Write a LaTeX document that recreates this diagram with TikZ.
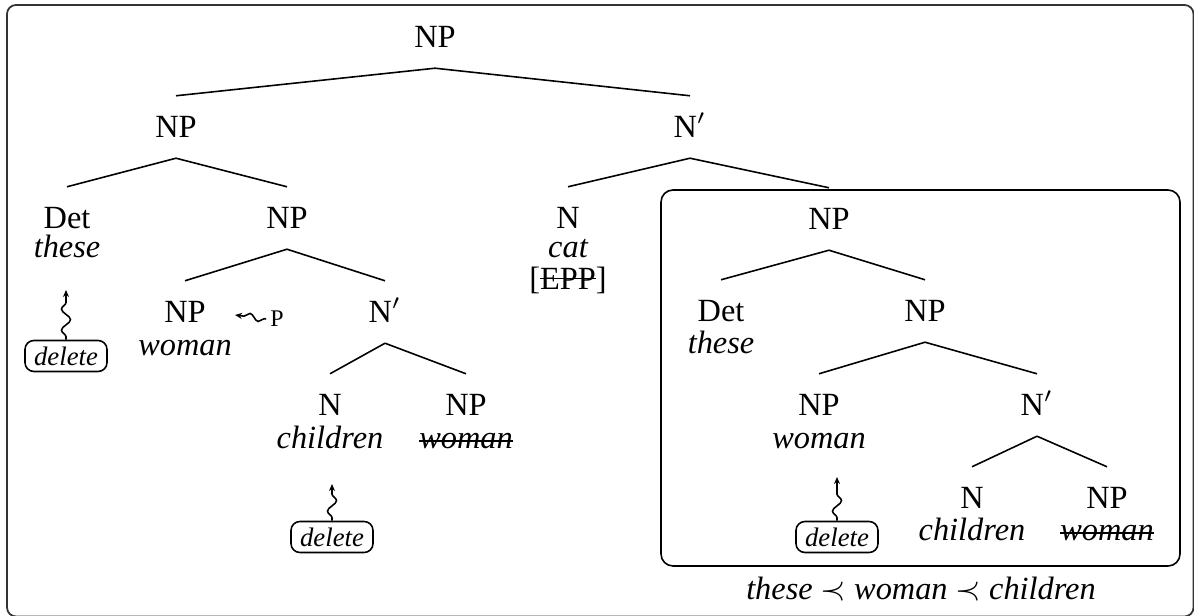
\documentclass[tikz,border=0pt]{standalone}
\usepackage{fontspec}
\setmainfont{Liberation Serif}
\usetikzlibrary{decorations.pathmorphing,arrows.meta}
\newcommand{\strikeit}[2][0.23em]{\setbox0\hbox{#2}\rlap{\rule[#1]{\wd0}{0.5pt}}\box0}
\begin{document}
\begin{tikzpicture}[x=0.01cm,y=-0.01cm,
  cat/.style={font=\fontsize{9.2}{11}\selectfont, inner xsep=1pt, inner ysep=0.2cm, text height=0.21cm, text depth=0cm},
  word/.style={font=\fontsize{9.2}{11}\selectfont\itshape, anchor=base, inner sep=0pt},
  tline/.style={line width=0.45pt},
  delbox/.style={draw, rounded corners=0.09cm, font=\fontsize{7.6}{9}\selectfont\itshape, minimum width=0.82cm, minimum height=0.31cm, inner sep=0pt, line width=0.45pt},
  wavy/.style={decorate, decoration={snake, amplitude=0.045cm, segment length=0.21cm, pre length=0.03cm, post length=0.08cm}, -{Stealth[length=0.07cm,width=0.06cm]}, line width=0.45pt},
  frame/.style={draw=black!80, line width=0.5pt, rounded corners=0.09cm}]
\useasboundingbox (0,0) rectangle (1194,616);
\draw[frame] (7,5) rectangle (1193.5,616.5);
% left tree
\node[cat] (root) at (435,37) {NP};
\node[cat] (np1) at (176,127) {NP};
\node[cat] (nbar1) at (690,127) {N$'$};
\node[cat] (det1) at (67,218) {Det};
\node[word] (these1) at (67,258) {these};
\node[cat] (np2) at (287,218) {NP};
\node[cat] (n2) at (568,218) {N};
\node[word] (cat) at (568,258) {cat};
\node[word, font=\fontsize{9.2}{11}\selectfont] (epp) at (568,290) {[\strikeit[0.33em]{EPP}]};
\node[cat] (np3) at (185,312) {NP};
\node[word] (woman1) at (185,356) {woman};
\node[cat] (nbar2) at (385,312) {N$'$};
\node[cat] (n1) at (330,405) {N};
\node[word] (children1) at (330,449) {children};
\node[cat] (np4) at (466,405) {NP};
\node[word] (woman2) at (466,449) {\strikeit{woman}};
\node[delbox] (del1) at (66,356) {delete};
\coordinate (tip1) at (66,290);
\node[delbox] (del2) at (332,537) {delete};
\coordinate (tip2) at (332,484);
\node[font=\fontsize{6.8}{8}\selectfont, inner sep=1pt] (p) at (277,319) {P};
\coordinate (tipP) at (235,315);
% boxed tree
\draw[line width=0.45pt, rounded corners=0.12cm] (661,190) rectangle (1180,566);
\node[cat] (np5) at (829,219) {NP};
\node[cat] (det2) at (721,311) {Det};
\node[word] (these2) at (721,354) {these};
\node[cat] (np6) at (925,311) {NP};
\node[cat] (np7) at (819,405) {NP};
\node[word] (woman3) at (819,449) {woman};
\node[cat] (nbar3) at (1037,405) {N$'$};
\node[cat] (n3) at (972,498) {N};
\node[word] (children2) at (972,541) {children};
\node[cat] (np8) at (1107,498) {NP};
\node[word] (woman4) at (1107,541) {\strikeit{woman}};
\node[delbox] (del3) at (837,537) {delete};
\coordinate (tip3) at (837,477);
\node[font=\fontsize{9.2}{11}\selectfont, anchor=base, inner sep=0pt] (order) at (921,600) {\textit{these} $\prec$ \textit{woman} $\prec$ \textit{children}};
% edges
\draw[tline] (root.south) -- (np1.north);
\draw[tline] (root.south) -- (nbar1.north);
\draw[tline] (np1.south) -- (det1.north);
\draw[tline] (np1.south) -- (np2.north);
\draw[tline] (nbar1.south) -- (n2.north);
\draw[tline] (nbar1.south) -- (np5.north);
\draw[tline] (np2.south) -- (np3.north);
\draw[tline] (np2.south) -- (nbar2.north);
\draw[tline] (nbar2.south) -- (n1.north);
\draw[tline] (nbar2.south) -- (np4.north);
\draw[tline] (np5.south) -- (det2.north);
\draw[tline] (np5.south) -- (np6.north);
\draw[tline] (np6.south) -- (np7.north);
\draw[tline] (np6.south) -- (nbar3.north);
\draw[tline] (nbar3.south) -- (n3.north);
\draw[tline] (nbar3.south) -- (np8.north);
% wavy arrows
\draw[wavy] (del1.north) -- (tip1);
\draw[wavy] (del2.north) -- (tip2);
\draw[wavy] (del3.north) -- (tip3);
\draw[wavy, decoration={snake, amplitude=0.035cm, segment length=0.18cm, pre length=0.02cm, post length=0.06cm}] (p.west) -- (tipP);
\end{tikzpicture}
\end{document}
